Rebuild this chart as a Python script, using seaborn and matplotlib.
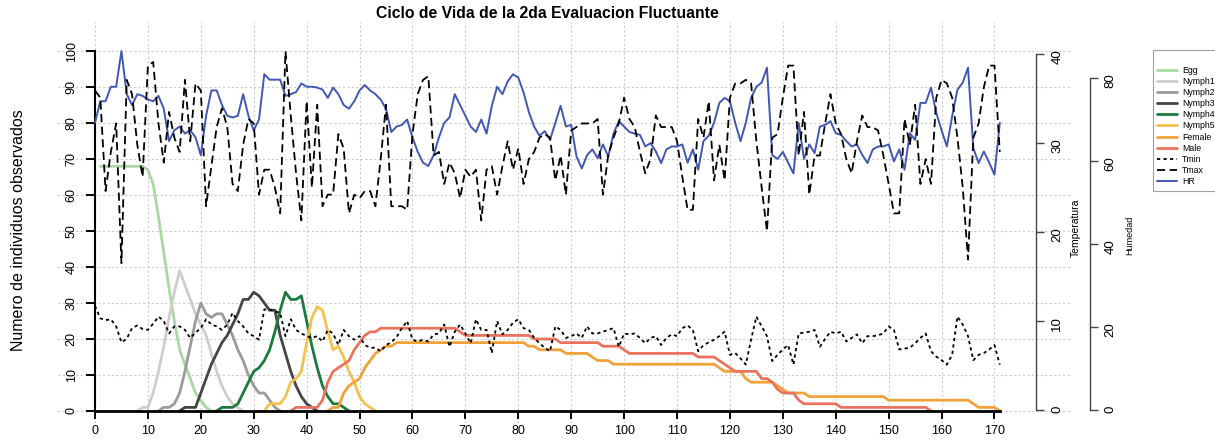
import numpy as np
import seaborn as sns
import matplotlib.pyplot as plt

# ---- data ----
days = np.arange(0, 172)

tmin = [
    11.7, 10.3, 10.1, 10.2, 9.4, 7.6, 8.0, 9.2, 9.5, 9.1,
    9.0, 9.7, 10.5, 10.0, 8.6, 9.4, 9.4, 9.0, 8.1, 8.7,
    9.2, 10.2, 9.6, 9.4, 9.0, 9.6, 10.9, 10.0, 9.4, 8.6,
    8.3, 7.9, 11.3, 11.3, 11.1, 10.9, 8.3, 10.2, 9.0, 8.6,
    8.3, 8.1, 8.3, 7.7, 9.0, 8.6, 7.3, 9.0, 8.3, 7.9,
    8.3, 7.3, 7.0, 7.0, 6.6, 7.3, 7.6, 8.2, 9.2, 10.0,
    7.9, 7.7, 7.9, 7.7, 8.5, 8.6, 9.6, 7.1, 8.8, 9.6,
    8.6, 7.5, 10.2, 9.0, 9.0, 6.4, 10.0, 8.5, 9.0, 9.8,
    10.2, 9.2, 9.0, 8.1, 7.5, 7.0, 6.6, 9.4, 9.0, 8.1,
    8.3, 8.6, 8.1, 9.4, 8.6, 8.6, 8.8, 9.0, 9.2, 7.1,
    8.6, 8.5, 8.6, 8.1, 7.5, 8.1, 8.3, 7.3, 8.1, 8.5,
    8.3, 9.2, 9.5, 9.0, 6.6, 7.3, 7.6, 7.9, 8.3, 8.8,
    6.2, 6.4, 5.8, 5.1, 7.9, 10.5, 9.4, 8.3, 5.5, 6.2,
    6.8, 7.3, 5.1, 8.6, 8.7, 8.8, 9.0, 7.1, 8.0, 8.8,
    8.6, 8.8, 7.7, 8.1, 8.5, 7.5, 8.3, 8.3, 8.4, 8.6,
    9.4, 9.0, 6.8, 6.9, 7.0, 7.5, 8.1, 8.6, 6.6, 6.0,
    5.6, 5.1, 6.2, 10.5, 9.6, 8.3, 5.6, 6.2, 6.4, 6.8,
    7.3, 5.1,
]

tmax = [
    35.9, 35.1, 24.6, 29.0, 32.2, 16.5, 37.1, 35.5, 29.8, 26.2,
    38.7, 39.1, 32.2, 27.8, 33.5, 30.6, 29.0, 37.1, 30.2, 36.7,
    35.9, 22.9, 27.4, 31.8, 33.9, 31.8, 25.4, 24.6, 29.8, 32.7,
    32.2, 24.2, 27.0, 27.0, 25.0, 22.1, 40.3, 33.1, 26.6, 21.3,
    34.7, 25.0, 34.3, 22.9, 24.2, 24.2, 31.0, 29.4, 22.1, 24.2,
    23.8, 24.6, 24.6, 22.9, 28.2, 34.3, 22.9, 22.9, 22.9, 22.5,
    31.0, 35.5, 37.1, 37.5, 28.6, 29.0, 25.4, 27.8, 26.6, 23.8,
    27.0, 26.2, 27.0, 21.3, 27.0, 27.4, 24.2, 27.4, 30.2, 27.0,
    29.4, 25.4, 28.2, 29.0, 30.6, 31.0, 30.6, 25.8, 28.6, 24.2,
    31.4, 31.8, 32.2, 32.2, 32.2, 32.7, 24.2, 28.6, 30.6, 32.2,
    35.1, 32.7, 31.8, 29.0, 26.6, 28.2, 33.1, 31.8, 31.8, 31.8,
    30.2, 26.2, 22.5, 22.5, 32.7, 30.6, 34.7, 25.8, 29.8, 25.8,
    35.1, 36.7, 36.7, 37.1, 36.7, 30.2, 25.0, 20.1, 30.6, 31.0,
    35.1, 38.7, 38.7, 28.6, 33.5, 24.2, 28.6, 28.6, 32.2, 35.5,
    32.2, 31.0, 28.2, 26.6, 30.2, 33.1, 31.8, 31.8, 31.4, 28.6,
    25.4, 22.1, 22.1, 32.7, 29.8, 34.3, 25.4, 28.2, 25.4, 35.1,
    37.1, 36.7, 35.1, 30.6, 25.0, 16.9, 30.6, 32.2, 36.3, 38.7,
    38.7, 29.0,
]

hr = [
    69.2, 74.4, 74.4, 77.9, 77.9, 86.5, 76.1, 73.5, 76.1, 75.7,
    74.8, 74.4, 75.7, 72.6, 64.8, 67.4, 68.3, 66.6, 67.4, 65.7,
    61.4, 70.9, 77.0, 77.0, 73.5, 70.9, 70.5, 70.9, 76.1, 70.9,
    67.4, 70.0, 80.9, 79.6, 79.6, 79.6, 75.7, 76.1, 76.6, 78.7,
    77.9, 77.9, 77.7, 77.2, 75.2, 77.7, 76.1, 73.5, 72.6, 74.4,
    77.0, 78.3, 77.0, 76.1, 74.8, 72.6, 67.0, 68.3, 68.7, 70.0,
    65.7, 62.2, 59.6, 58.8, 61.4, 65.7, 69.2, 70.5, 76.1, 73.5,
    70.9, 68.3, 67.0, 70.0, 66.6, 73.3, 77.9, 76.1, 79.2, 80.9,
    80.1, 76.5, 71.8, 68.3, 66.1, 67.2, 65.1, 69.2, 73.3, 68.3,
    68.7, 61.1, 58.2, 61.4, 62.8, 60.7, 64.0, 61.1, 66.6, 69.6,
    68.3, 67.0, 66.6, 66.3, 63.5, 64.3, 62.3, 59.5, 62.8, 63.5,
    63.5, 64.0, 59.6, 62.8, 57.9, 64.8, 66.1, 69.2, 74.0, 75.2,
    74.4, 69.2, 64.8, 69.2, 75.2, 77.9, 78.9, 82.5, 61.4, 60.5,
    62.2, 59.6, 57.0, 69.2, 60.5, 64.0, 61.9, 68.3, 68.7, 69.6,
    66.7, 66.3, 64.8, 63.5, 64.0, 61.5, 59.5, 62.8, 63.5, 63.5,
    64.0, 59.9, 62.8, 57.9, 66.7, 65.1, 74.0, 74.0, 77.7, 71.6,
    67.4, 63.5, 70.8, 77.2, 78.9, 82.5, 63.1, 59.5, 62.3, 59.6,
    56.7, 69.2,
]

# stage counts: first day of each series, then one value per day
egg_start = 1
egg = [68, 68, 68, 68, 68, 68, 68, 68, 68, 67, 63, 54, 44, 34, 25, 17, 13, 9,
       5, 3, 1, 0, 0]
nymph1_start = 8
nymph1 = [0, 1, 1, 5, 11, 18, 26, 33, 39, 35, 31, 27, 24, 21, 16, 11, 7, 4, 2,
          1, 0]
nymph2_start = 12
nymph2 = [0, 1, 1, 2, 5, 11, 18, 25, 30, 27, 26, 27, 27, 24, 21, 17, 14, 10, 7,
          5, 5, 3, 1, 0]
nymph3_start = 16
nymph3 = [0, 1, 1, 1, 5, 9, 13, 16, 19, 21, 24, 27, 31, 31, 33, 32, 30, 28, 28,
          21, 16, 11, 7, 4, 2, 1, 0]
nymph4_start = 23
nymph4 = [0, 1, 1, 1, 2, 5, 8, 11, 12, 14, 17, 22, 28, 33, 31, 31, 32, 25, 18,
          12, 7, 4, 2, 2, 1, 0]
nymph5_start = 32
nymph5 = [0, 2, 2, 2, 4, 8, 9, 11, 19, 26, 29, 28, 22, 17, 18, 15, 11, 8, 4, 2,
          1, 0]
male_start = 37
male = [
    0, 1, 1, 1, 1, 1, 3, 8, 11, 12,
    13, 14, 17, 19, 21, 22, 22, 23, 23, 23,
    23, 23, 23, 23, 23, 23, 23, 23, 23, 23,
    23, 23, 22, 21, 21, 21, 21, 21, 21, 21,
    21, 21, 21, 21, 21, 21, 20, 20, 20, 20,
    20, 19, 19, 19, 19, 19, 19, 19, 19, 18,
    18, 18, 18, 17, 16, 16, 16, 16, 16, 16,
    16, 16, 16, 16, 16, 16, 16, 15, 15, 15,
    15, 14, 13, 12, 11, 11, 11, 11, 11, 9,
    9, 8, 6, 5, 5, 5, 3, 2, 2, 2,
    2, 2, 2, 2, 1, 1, 1, 1, 1, 1,
    1, 1, 1, 1, 1, 1, 1, 1, 1, 1,
    1, 0,
]
female_start = 44
female = [
    0, 1, 1, 5, 7, 8, 9, 12, 14, 16,
    17, 18, 18, 19, 19, 19, 19, 19, 19, 19,
    19, 19, 19, 19, 19, 19, 19, 19, 19, 19,
    19, 19, 19, 19, 19, 19, 19, 19, 18, 18,
    17, 17, 17, 17, 17, 16, 16, 16, 16, 16,
    15, 14, 14, 14, 13, 13, 13, 13, 13, 13,
    13, 13, 13, 13, 13, 13, 13, 13, 13, 13,
    13, 13, 13, 13, 12, 11, 11, 11, 11, 9,
    8, 8, 8, 8, 8, 7, 6, 5, 5, 5,
    5, 4, 4, 4, 4, 4, 4, 4, 4, 4,
    4, 4, 4, 4, 4, 4, 3, 3, 3, 3,
    3, 3, 3, 3, 3, 3, 3, 3, 3, 3,
    3, 3, 2, 1, 1, 1, 1, 0,
]

stages = [
    ("Egg", egg_start, egg, "#a9d9a3"),
    ("Nymph1", nymph1_start, nymph1, "#cdcdcd"),
    ("Nymph2", nymph2_start, nymph2, "#9b9b9b"),
    ("Nymph3", nymph3_start, nymph3, "#454545"),
    ("Nymph4", nymph4_start, nymph4, "#1c7a3e"),
    ("Nymph5", nymph5_start, nymph5, "#f2c14e"),
    ("Female", female_start, female, "#f0a23a"),
    ("Male", male_start, male, "#e9735c"),
]

# ---- style ----
sns.set_theme(style="white")
plt.rcParams['font.family'] = ['Liberation Sans', 'DejaVu Sans']
plt.rcParams['text.color'] = 'black'
plt.rcParams['xtick.color'] = 'black'
plt.rcParams['ytick.color'] = 'black'

W, H = 1215, 445
fig = plt.figure(figsize=(W / 100, H / 100), dpi=100)
ax = fig.add_axes([58 / W, 22 / H, 1014 / W, 401 / H])

handles = []
for name, start, vals, col in stages:
    sns.lineplot(x=np.arange(start, start + len(vals)), y=vals, ax=ax,
                 color=col, lw=2.0, estimator=None, sort=False)
    handles.append((ax.lines[-1], name))

ax.set_xlim(-6.99, 184.65)
ax.set_ylim(-3.34, 108.1)
ax.set_xticks(range(0, 171, 10))
ax.set_yticks(range(0, 101, 10))
ax.grid(True, color='#cccccc', ls=(0, (2, 2)), lw=0.8)
ax.set_axisbelow(True)
for s in ['top', 'right']:
    ax.spines[s].set_visible(False)
ax.spines['left'].set_position(('data', 0))
ax.spines['left'].set_bounds(0, 100)
ax.spines['left'].set_linewidth(1.5)
ax.spines['left'].set_color('black')
ax.spines['bottom'].set_position(('data', 0))
ax.spines['bottom'].set_bounds(0, 171)
ax.spines['bottom'].set_linewidth(2.0)
ax.spines['bottom'].set_color('black')
ax.tick_params(axis='x', bottom=True, direction='out', length=6, width=1.4,
               labelsize=9, pad=4)
ax.tick_params(axis='y', left=True, direction='out', length=6.5, width=1.4,
               labelsize=9, pad=6, labelrotation=90)
for lab in ax.get_yticklabels():
    lab.set_va('center')
ax.set_xlabel('')
ax.set_ylabel('')

# humidity axis (outer right)
ax_h = ax.twinx()
sns.lineplot(x=days, y=hr, ax=ax_h, color='#4257b2', lw=1.4,
             estimator=None, sort=False)
hr_line = ax_h.lines[-1]
ax_h.set_ylim(-3.14, 93.5)
ax_h.set_yticks(range(0, 81, 20))
for s in ['top', 'left', 'bottom']:
    ax_h.spines[s].set_visible(False)
ax_h.spines['right'].set_position(('axes', (1090 - 58) / 1014))
ax_h.spines['right'].set_bounds(0, 80)
ax_h.spines['right'].set_color('#444444')
ax_h.spines['right'].set_linewidth(1.0)
ax_h.tick_params(axis='y', right=True, left=False, direction='out', length=5.5,
                 width=1.0, color='#444444', labelsize=9.5, pad=5,
                 labelrotation=90)
ax_h.set_ylabel('')

# temperature axis
ax_t = ax.twinx()
sns.lineplot(x=days, y=tmin, ax=ax_t, color='black', lw=1.3,
             linestyle=(0, (1.8, 1.8)), estimator=None, sort=False)
tmin_line = ax_t.lines[-1]
sns.lineplot(x=days, y=tmax, ax=ax_t, color='black', lw=1.3,
             linestyle=(0, (4.5, 2.5)), estimator=None, sort=False)
tmax_line = ax_t.lines[-1]
ax_t.set_ylim(-1.46, 43.6)
ax_t.set_yticks(range(0, 41, 10))
for s in ['top', 'left', 'bottom']:
    ax_t.spines[s].set_visible(False)
ax_t.spines['right'].set_position(('axes', (1036 - 58) / 1014))
ax_t.spines['right'].set_bounds(0, 40)
ax_t.spines['right'].set_color('#444444')
ax_t.spines['right'].set_linewidth(1.0)
ax_t.tick_params(axis='y', right=True, left=False, direction='out', length=6,
                 width=1.0, color='#444444', labelsize=9.5, pad=5,
                 labelrotation=90)
ax_t.set_ylabel('')

handles += [(tmin_line, 'Tmin'), (tmax_line, 'Tmax'), (hr_line, 'HR')]

fig.text(547 / W, 1 - 14 / H, 'Ciclo de Vida de la 2da Evaluacion Fluctuante',
         ha='center', va='center', fontsize=11.3, fontweight='bold')
fig.text(19 / W, 1 - 230 / H, 'Numero de individuos observados', rotation=90,
         ha='center', va='center', fontsize=11.5)
fig.text(1076 / W, 1 - 228 / H, 'Temperatura', rotation=90,
         ha='center', va='center', fontsize=7.5)
fig.text(1130 / W, 1 - 235 / H, 'Humedad', rotation=90,
         ha='center', va='center', fontsize=6.5)

leg = fig.legend([h for h, _ in handles], [n for _, n in handles],
                 loc='upper left', bbox_to_anchor=(1153 / W, 1 - 50 / H),
                 fontsize=6.3, title=' ', title_fontsize=6.3, frameon=True,
                 fancybox=False, edgecolor='#888888', labelspacing=0.25,
                 handlelength=2.2, handletextpad=0.6, borderpad=0.5,
                 borderaxespad=0)
leg.get_frame().set_linewidth(0.8)

fig.savefig('out.png', dpi=100)
